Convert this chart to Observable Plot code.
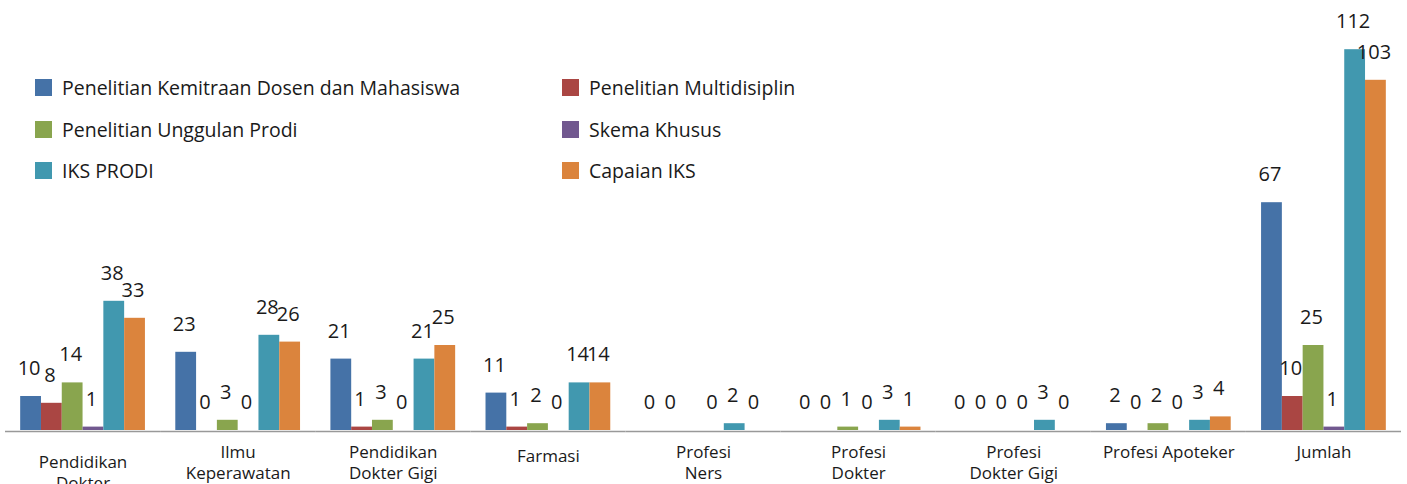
<!DOCTYPE html>
<html>
<head>
<meta charset="utf-8">
<script src="https://cdn.jsdelivr.net/npm/d3@7"></script>
<script src="https://cdn.jsdelivr.net/npm/@observablehq/plot@0.6"></script>
<style>
  html, body { margin: 0; padding: 0; background: #fff; }
  #wrap { position: relative; width: 1407px; height: 484px; overflow: hidden; font-family: "Open Sans", sans-serif; }
  #legend { position: absolute; left: 35px; top: 67px; }
  .lg-swatches { font-family: "Open Sans", sans-serif !important; font-size: 19.5px !important; color: #1a1a1a !important;
    display: grid !important; grid-template-columns: 527px 300px; grid-auto-rows: 41.5px; margin: 0 !important; min-height: 0 !important; }
  .lg-swatch { display: flex !important; align-items: center !important; margin: 0 !important; }
  .lg-swatch svg { margin-right: 10px !important; }
</style>
</head>
<body>
<div id="wrap"><div id="chart"></div><div id="legend"></div></div>
<script>
const categories = ["Pendidikan Dokter","Ilmu Keperawatan","Pendidikan Dokter Gigi","Farmasi","Profesi Ners","Profesi Dokter","Profesi Dokter Gigi","Profesi Apoteker","Jumlah"];
const categoryLabels = ["Pendidikan\nDokter","Ilmu\nKeperawatan","Pendidikan\nDokter Gigi","Farmasi","Profesi\nNers","Profesi\nDokter","Profesi\nDokter Gigi","Profesi Apoteker","Jumlah"];
const seriesNames = ["Penelitian Kemitraan Dosen dan Mahasiswa","Penelitian Multidisiplin","Penelitian Unggulan Prodi","Skema Khusus","IKS PRODI","Capaian IKS"];
const seriesColors = ["#4572A7","#AA4643","#89A54E","#71588F","#4198AF","#DB843D"];
const kemitraan = [10,23,21,11,0,0,0,2,67];
const multidisiplin = [8,0,1,1,0,0,0,0,10];
const unggulan = [14,3,3,2,null,1,0,2,25];
const skemaKhusus = [1,0,0,0,0,0,0,0,1];
const iksProdi = [38,28,21,14,2,3,3,3,112];
const capaianIks = [33,26,25,14,0,1,0,4,103];
const seriesValues = [kemitraan, multidisiplin, unggulan, skemaKhusus, iksProdi, capaianIks];

const data = [];
categories.forEach((c, i) => {
  seriesNames.forEach((s, j) => {
    data.push({category: c, series: s, value: seriesValues[j][i]});
  });
});
const labelData = categories.map((c, i) => ({category: c, label: categoryLabels[i]}));

const labelFont = {fontFamily: "Open Sans", fontSize: 17, fill: "#1a1a1a", lineAnchor: "top", lineHeight: 1.25, frameAnchor: "bottom"};

const chart = Plot.plot({
  width: 1407,
  height: 484,
  marginLeft: 5,
  marginRight: 6,
  marginTop: 22,
  marginBottom: 54,
  style: {fontFamily: "Open Sans", overflow: "visible"},
  fx: {domain: categories, padding: 0, round: false, axis: null},
  x: {domain: seriesNames, paddingInner: 0, paddingOuter: 0.73, round: false, axis: null},
  y: {domain: [0, 120], axis: null},
  color: {domain: seriesNames, range: seriesColors},
  marks: [
    Plot.barY(data.filter(d => d.value != null), {fx: "category", x: "series", y: "value", fill: "series"}),
    Plot.ruleY([0], {stroke: "#999", strokeWidth: 1.5, dy: 1}),
    Plot.text(data.filter(d => d.value != null), {fx: "category", x: "series", y: "value", text: d => String(d.value),
      dy: -28, dx: -2, fontSize: 20, fill: "#1a1a1a", fontFamily: "Open Sans"}),
    Plot.text(labelData.filter(d => d.category !== "Pendidikan Dokter" && d.category !== "Farmasi"),
      {fx: "category", text: "label", dy: 12, ...labelFont}),
    Plot.text(labelData.filter(d => d.category === "Farmasi"),
      {fx: "category", text: "label", dy: 16, ...labelFont}),
    Plot.text(labelData.filter(d => d.category === "Pendidikan Dokter"),
      {fx: "category", text: "label", dy: 22, ...labelFont})
  ]
});
document.getElementById("chart").appendChild(chart);
document.getElementById("legend").appendChild(chart.legend("color", {swatchSize: 17, className: "lg"}));
</script>
</body>
</html>
